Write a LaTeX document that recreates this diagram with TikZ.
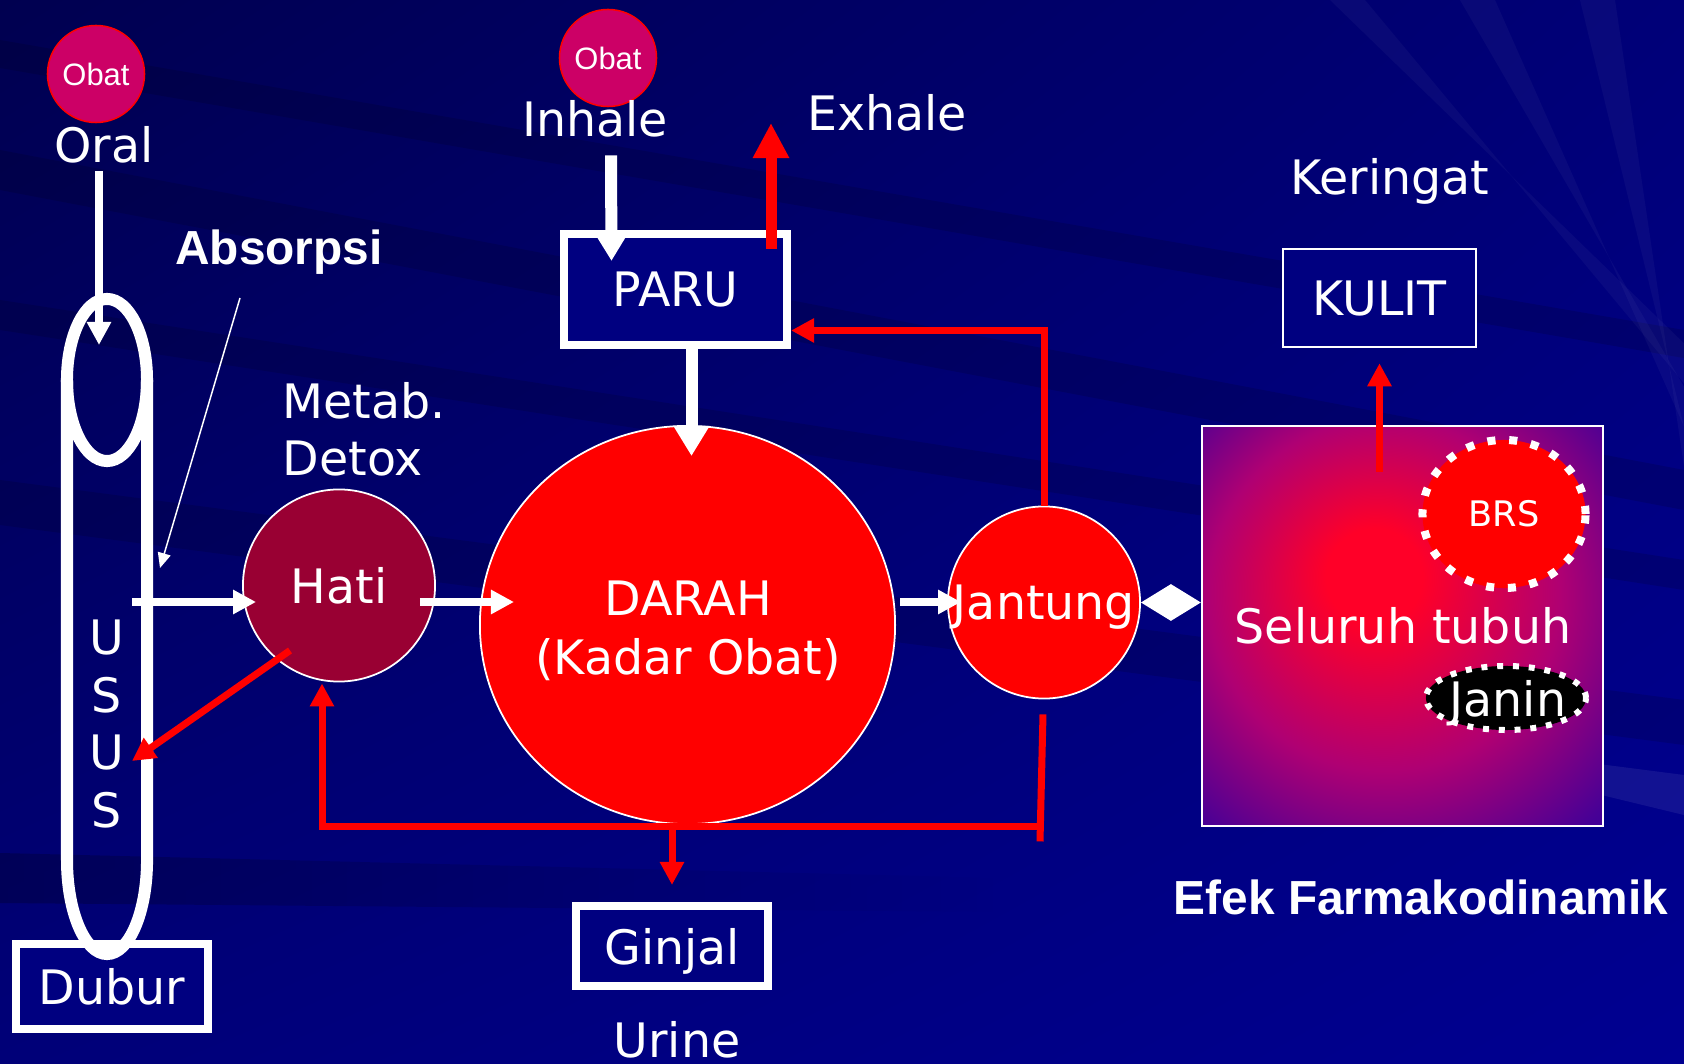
\documentclass[tikz,border=0pt]{standalone}
\usepackage{fontspec}
\setmainfont{DejaVu Sans}
\newfontfamily\arialfont{Liberation Sans}
\usepackage{xcolor}
\usetikzlibrary{calc}
\usetikzlibrary{arrows.meta}
\usetikzlibrary{shapes.geometric}
\usetikzlibrary{shadings}
\usetikzlibrary{fadings}

\newcommand{\lblsize}{\fontsize{13.5}{16.4}\selectfont}

% グラデーション用の色
\definecolor{glowred}{RGB}{255,0,40}
\definecolor{glowmid}{RGB}{175,0,115}
\definecolor{glowout}{RGB}{70,0,150}
\definecolor{glowedge}{RGB}{30,0,160}
\pgfdeclareradialshading{tubuhglow}{\pgfpoint{-4bp}{7bp}}{%
  color(0bp)=(glowred); color(6bp)=(glowred); color(22bp)=(glowmid);
  color(36bp)=(glowout); color(46bp)=(glowedge); color(50bp)=(glowedge)}

\begin{document}
\begin{tikzpicture}[x=0.01cm, y=-0.01cm,
    lbl/.style={text=white, inner sep=2pt, font=\lblsize},
    boldlbl/.style={text=white, inner sep=2pt, font=\arialfont\bfseries\fontsize{13.6}{16}\selectfont},
    obat/.style={circle, fill=obatpink, draw=red, line width=0.015cm, minimum size=0.97cm,
      inner sep=0pt, text=white, font=\arialfont\fontsize{8.8}{10}\selectfont},
    organ/.style={circle, draw=white, line width=0.5pt, minimum size=1.92cm, inner sep=0pt,
      text=white, font=\lblsize},
    kotak/.style={draw=white, line width=0.08cm, fill=kotakbiru, inner sep=0pt, text=white,
      text depth=0pt, font=\lblsize},
    tubuhbox/.style={draw=white, line width=0.02cm, shading=tubuhglow, minimum width=4.01cm,
      minimum height=4.00cm, inner sep=0pt},
    bintik/.style={draw=white, line cap=butt},
    warrow/.style={white, line width=0.07cm, -{Triangle[width=0.23cm,length=0.23cm]}},
    wtebal/.style={white, line width=0.12cm, -{Triangle[width=0.34cm,length=0.3cm]}},
    dblarrow/.style={white, line width=0.03cm,
      {Triangle[width=0.36cm,length=0.3cm]}-{Triangle[width=0.36cm,length=0.3cm]}},
    rarrow/.style={red, line width=0.07cm, -{Triangle[width=0.23cm,length=0.23cm]}},
    rtebal/.style={red, line width=0.11cm, -{Triangle[width=0.34cm,length=0.35cm]}},
    rline/.style={red, line width=0.07cm},
    tipis/.style={white, line width=0.015cm, -{Triangle[width=0.13cm,length=0.15cm]}}]

  % 色の設定
  \definecolor{bgdark}{RGB}{0,0,80}
  \definecolor{bgmid}{RGB}{0,0,120}
  \definecolor{bgmain}{RGB}{0,0,145}
  \definecolor{kotakbiru}{RGB}{0,0,128}
  \definecolor{obatpink}{RGB}{204,0,102}
  \definecolor{hatimerah}{RGB}{153,0,51}

  \useasboundingbox (0,0) rectangle (1684,1064);

  % 背景
  \shade[upper left=bgdark, upper right=bgmid, lower left=bgmid, lower right=bgmain]
    (0,0) rectangle (1684,1064);
  \foreach \ya/\yb/\t in {40/330/28, 150/470/40, 300/560/30, 480/700/45}
    \fill[black, opacity=0.13] (0,\ya) -- (1684,\yb) -- (1684,\yb+\t) -- (0,\ya+\t) -- cycle;
  \foreach \xa in {1330, 1460, 1580}
    \fill[white, opacity=0.035] (\xa,0) -- (\xa+35,0) -- (1684,\xa/3-60) -- (1684,\xa/3-100) -- cycle;
  \fill[black, opacity=0.22, path fading=east] (0,853) -- (1000,878) -- (1000,912) -- (0,903) -- cycle;
  \fill[white, opacity=0.07] (1490,750) -- (1684,775) -- (1684,815) -- (1490,768) -- cycle;

  % 全身（グラデーションの箱）
  \node[tubuhbox] (tubuh) at (1402.5,626) {};
  \node[lbl, anchor=base] (seluruh) at (1403,644) {Seluruh tubuh};
  \node[ellipse, fill=red, bintik, line width=0.08cm, dash pattern=on 2.3pt off 3.9pt,
    minimum width=1.63cm, minimum height=1.48cm, inner sep=0pt, text=white,
    font=\fontsize{10}{12}\selectfont] (brs) at (1504,514) {BRS};
  \node[ellipse, fill=black, bintik, line width=0.06cm, dash pattern=on 1.7pt off 2.8pt,
    minimum width=1.60cm, minimum height=0.64cm] (janin) at (1506,698) {};
  \node[lbl, anchor=base] (janinT) at (1508,716) {Janin};

  % 左側（経口）
  \node[obat] (obatOral) at (96,74) {Obat};
  \node[lbl, anchor=base] (oral) at (104,163) {Oral};
  \node[boldlbl, anchor=base] (absorpsi) at (279,265) {Absorpsi};
  \node[lbl, anchor=base west] (metab) at (275,419) {Metab.};
  \node[lbl, anchor=base west] (detox) at (275,476) {Detox};
  \node[kotak, minimum width=1.92cm, minimum height=0.85cm] (dubur) at (112,986.5) {Dubur};
  \foreach \c [count=\i] in {U,S,U,S}
    \node[lbl, anchor=base] (usus\i) at (107,597.5+57.5*\i) {\c};

  % 腸
  \draw[white, line width=0.12cm] (107,380) ellipse [x radius=0.40cm, y radius=0.81cm];
  \draw[white, line width=0.12cm] (67,380) -- (67,860)
    arc [start angle=180, end angle=360, x radius=0.40cm, y radius=0.94cm] -- (147,380);

  % 中央（肺・血液・心臓）
  \node[obat] (obatInhale) at (608,58) {Obat};
  \node[lbl, anchor=base] (inhale) at (595,137) {Inhale};
  \node[lbl, anchor=base] (exhale) at (887,131) {Exhale};
  \node[kotak, minimum width=2.23cm, minimum height=1.11cm] (paru) at (675.5,289.5) {PARU};
  \node[organ, fill=hatimerah] (hati) at (339,585.5) {Hati};
  \node[organ, ellipse, fill=red, minimum width=4.15cm, minimum height=3.98cm] (darah) at (687.5,625) {};
  \node[lbl, anchor=base] (darahA) at (688,616) {DARAH};
  \node[lbl, anchor=base] (darahB) at (688,674.5) {(Kadar Obat)};
  \node[organ, fill=red, text depth=0pt] (jantung) at (1044,602.5) {Jantung};
  \node[kotak, minimum width=1.92cm, minimum height=0.80cm] (ginjal) at (672,946) {Ginjal};
  \node[lbl, anchor=base] (urine) at (677,1057) {Urine};

  % 右側（皮膚）
  \node[lbl, anchor=base] (keringat) at (1390,195) {Keringat};
  \node[kotak, line width=0.025cm, minimum width=1.93cm, minimum height=0.98cm] (kulit) at (1379.5,298) {KULIT};
  \node[boldlbl, anchor=base] (efek) at (1421,914) {Efek Farmakodinamik};

  % 矢印の端点
  \coordinate (ususAtas) at (99,345);
  \coordinate (ususKanan) at (132,602);
  \coordinate (ususTengah) at (132,761);
  \coordinate (absPangkal) at (240,298);
  \coordinate (absUjung) at (160,568);
  \coordinate (exUjung) at (771,123);

  % 白い矢印
  \draw[warrow] (oral.south -| ususAtas) -- (ususAtas);
  \draw[tipis] (absPangkal) -- (absUjung);
  \draw[warrow] (ususKanan) -- ($(hati.west |- ususKanan)+(14,0)$);
  \draw[warrow] ($(hati.east |- ususKanan)+(-16,0)$) -- ($(darah.west |- ususKanan)+(35,0)$);
  \draw[warrow] ($(darah.east |- ususKanan)+(4,0)$) -- ($(jantung.west |- ususKanan)+(14,0)$);
  \draw[dblarrow] (jantung.east) -- (jantung.east -| tubuh.west);
  \draw[wtebal] ($(inhale.south)+(16,10)$) -- ($(paru.north)+(-64,31)$);
  \draw[wtebal] ($(paru.south)+(16,0)$) -- ($(darah.north)+(4,31)$);

  % 赤い矢印
  \draw[rtebal] ($(exUjung |- paru.north)+(0,19)$) -- (exUjung);
  \draw[rarrow] (jantung.north) |- ($(paru.east)+(0,41)$);
  \draw[rline] ($(jantung.south)+(-1,15)$) -- ($(jantung.south)+(-4,142)$);
  \draw[rarrow] ($(jantung.south)+(-3,127)$) -| ($(hati.south)+(-17,1)$);
  \draw[rarrow] (darah.south -| ginjal.north) -- ($(ginjal.north)+(0,-17)$);
  \draw[rarrow] ($(hati.center)+(-49,65)$) -- (ususTengah);
  \draw[rarrow] ($(tubuh.north)+(-23,47)$) -- ($(kulit.south)+(0,15)$);

\end{tikzpicture}
\end{document}
